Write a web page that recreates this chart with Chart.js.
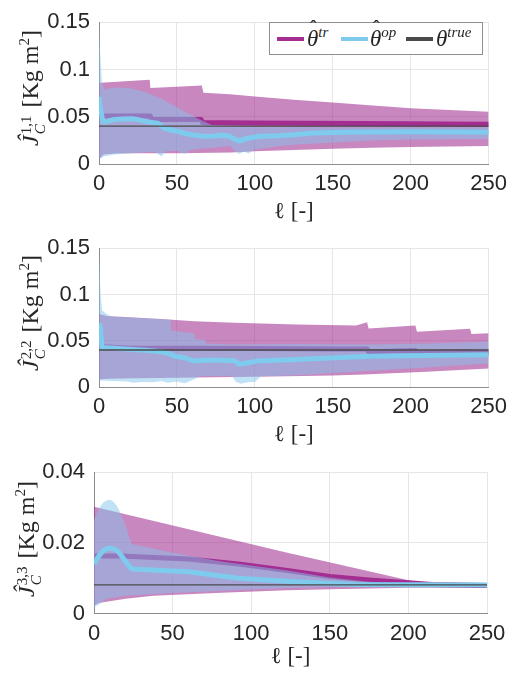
<!DOCTYPE html>
<html>
<head>
<meta charset="utf-8">
<script src="https://cdn.jsdelivr.net/npm/chart.js@4.4.0/dist/chart.umd.min.js"></script>
<style>
  body { margin: 0; background: #fff; width: 514px; height: 675px; position: relative; overflow: hidden; }
  canvas { position: absolute; left: 0; }
  .ylab {
    position: absolute; white-space: nowrap; color: #262626;
    font-family: 'Liberation Serif', serif; font-size: 24px;
    transform: translate(-50%, -50%) rotate(-90deg);
  }
  .ylab sup { font-size: 15px; }
  .stack { display: inline-block; vertical-align: -7px; font-size: 15px; line-height: 14px; margin-left: 1px; margin-right: 2px; }
  .stack div { text-align: left; }
  .legend {
    position: absolute; left: 269px; top: 22px; width: 212px; height: 31px;
    border: 1px solid #8f8f8f; background: #fff;
    font-family: 'Liberation Serif', serif; color: #262626;
  }
  .legend .sw { position: absolute; top: 14px; width: 27px; height: 4px; }
  .legend .tx { position: absolute; top: 1px; font-size: 23px; font-style: italic; white-space: nowrap; }
  .legend .tx sup { font-size: 15px; }
  .hat { position: relative; display: inline-block; }
  .hat .h { position: absolute; left: 3px; top: -9px; font-style: normal; font-size: 20px; }
</style>
</head>
<body>
<canvas id="c1" width="514" height="230" style="top:0px"></canvas>
<canvas id="c2" width="514" height="227" style="top:226px"></canvas>
<canvas id="c3" width="514" height="225" style="top:450px"></canvas>

<div class="ylab" style="left:31px; top:88px"><i>Ĵ</i><span class="stack"><div>1,1</div><div><i>C</i></div></span> [Kg m<sup>2</sup>]</div>
<div class="ylab" style="left:31px; top:313px"><i>Ĵ</i><span class="stack"><div>2,2</div><div><i>C</i></div></span> [Kg m<sup>2</sup>]</div>
<div class="ylab" style="left:27px; top:539px"><i>Ĵ</i><span class="stack"><div>3,3</div><div><i>C</i></div></span> [Kg m<sup>2</sup>]</div>

<div class="legend">
  <div class="sw" style="left:7px; background:rgb(163,45,145)"></div>
  <div class="tx" style="left:37px"><span class="hat">θ<span class="h">ˆ</span></span><sup>tr</sup></div>
  <div class="sw" style="left:71px; background:rgb(126,203,238)"></div>
  <div class="tx" style="left:100px"><span class="hat">θ<span class="h">ˆ</span></span><sup>op</sup></div>
  <div class="sw" style="left:136px; background:#4a4a4a"></div>
  <div class="tx" style="left:166px">θ<sup>true</sup></div>
</div>

<script>
// Axis ticks
const X_TICKS = [0, 50, 100, 150, 200, 250];
const Y_TICKS_12 = [0, 0.05, 0.1, 0.15];
const Y_LABELS_12 = ['0', '0.05', '0.1', '0.15'];
const Y_TICKS_3 = [0, 0.02, 0.04];
const Y_LABELS_3 = ['0', '0.02', '0.04'];

// Panel 1 : J_C^{1,1}   ([ell, value] pairs)
const trHi1 = [[0,0.086],[1,0.086],[32.5,0.089],[33,0.0805],[66,0.083],[67,0.0755],[84,0.0737],[100,0.0715],[125,0.068],[150,0.065],[167,0.063],[200,0.059],[250,0.0553]];
const trLo1 = [[0,0.005],[3,0.010],[10,0.0112],[25,0.0115],[50,0.0115],[85,0.0122],[100,0.0135],[125,0.0148],[150,0.016],[175,0.0173],[200,0.018],[250,0.019]];
const trMean1 = [[0,0.055],[2,0.051],[33,0.0507],[33.5,0.047],[65.5,0.047],[66.5,0.0439],[100,0.0435],[167,0.0428],[250,0.0421]];
const opHi1 = [[0,0.142],[1,0.11],[2,0.085],[4,0.078],[7,0.080],[12,0.081],[20,0.080],[30,0.076],[40,0.069],[50,0.060],[60,0.051],[66,0.046],[72,0.0415],[85,0.0398],[100,0.0395],[150,0.039],[250,0.0388]];
const opLo1 = [[0,0.005],[3,0.008],[10,0.010],[20,0.0115],[30,0.0125],[36,0.013],[40,0.008],[43,0.0135],[50,0.014],[55,0.0105],[58,0.0145],[65,0.016],[75,0.0175],[84,0.0193],[87,0.014],[90,0.0105],[93,0.013],[96,0.011],[100,0.0155],[105,0.0165],[116,0.019],[130,0.021],[148,0.0226],[174,0.0249],[200,0.026],[250,0.0265]];
const opMean1 = [[0,0.071],[1,0.058],[2.5,0.045],[4,0.0444],[7,0.046],[10,0.047],[15,0.0475],[21,0.0478],[25,0.047],[29.5,0.0451],[34,0.044],[38,0.0428],[42,0.0377],[46,0.036],[51,0.0344],[56,0.032],[61.5,0.0303],[68,0.0293],[74,0.0296],[79,0.0303],[84,0.0293],[86,0.027],[88,0.0259],[90,0.0242],[93,0.026],[95,0.027],[103,0.0293],[116,0.030],[125,0.031],[137,0.0327],[158,0.0337],[200,0.034],[250,0.0337]];
const true1 = 0.040;

// Panel 2 : J_C^{2,2}
const trHi2 = [[0,0.079],[5,0.0768],[40,0.0735],[61,0.0711],[87,0.0693],[127,0.0676],[165,0.0665],[172,0.070],[173,0.0631],[203,0.0665],[204,0.0596],[238,0.063],[239,0.0572],[250,0.0582]];
const trLo2 = [[0,0.008],[5,0.009],[25,0.0095],[50,0.010],[100,0.0112],[150,0.0125],[170,0.0135],[210,0.0165],[250,0.020]];
const trMean2 = [[0,0.047],[3,0.0435],[20,0.042],[60,0.0418],[100,0.0415],[150,0.041],[172,0.0412],[173,0.038],[203,0.0395],[204,0.037],[238,0.0385],[239,0.037],[250,0.0375]];
const opHi2 = [[0,0.145],[1,0.10],[2,0.083],[4,0.080],[8,0.076],[20,0.0752],[46,0.0728],[46.5,0.0607],[61,0.058],[61.5,0.052],[68,0.051],[68.5,0.047],[85,0.046],[125,0.0465],[175,0.046],[210,0.047],[250,0.049]];
const opLo2 = [[0,0.007],[10,0.0065],[18,0.006],[22,0.0045],[28,0.0055],[35,0.005],[40,0.0065],[44,0.0045],[50,0.006],[55,0.004],[60,0.0075],[65,0.0115],[85,0.0122],[88,0.0055],[91,0.0035],[95,0.005],[100,0.0055],[104,0.0115],[130,0.013],[174,0.0176],[200,0.020],[250,0.0253]];
const opMean2 = [[0,0.069],[1,0.063],[2,0.0413],[4,0.0424],[10,0.042],[19,0.0409],[29.5,0.0397],[40,0.038],[45,0.036],[48.6,0.0333],[55,0.0316],[61,0.028],[68,0.029],[78,0.029],[87,0.0285],[90,0.0245],[95,0.026],[101,0.028],[127,0.0297],[148,0.0314],[174,0.0331],[210,0.034],[250,0.0348]];
const true2 = 0.040;

// Panel 3 : J_C^{3,3}
const trHi3 = [[0,0.0302],[123,0.0172],[212,0.0082],[250,0.0082]];
const trLo3 = [[0,0.0022],[3,0.003],[8,0.0033],[20,0.0042],[38,0.005],[81,0.0059],[123,0.0066],[150,0.0069],[200,0.0073],[250,0.0073]];
const trMean3 = [[0,0.0163],[17,0.0163],[60,0.0154],[92,0.014],[123,0.0122],[150,0.0105],[175,0.0095],[200,0.0087],[215,0.0082],[250,0.0079]];
const opHi3 = [[0,0.0266],[2,0.0285],[4,0.0303],[6,0.0315],[8,0.032],[10,0.0322],[12,0.0318],[14,0.0308],[16,0.0293],[18,0.0272],[20,0.025],[22,0.0222],[24,0.0197],[50,0.0172],[80,0.0148],[123,0.0122],[150,0.0102],[175,0.009],[200,0.0085],[250,0.0083]];
const opLo3 = [[0,0.0018],[3,0.0025],[8,0.0042],[20,0.005],[50,0.0058],[100,0.0068],[123,0.0072],[150,0.0075],[200,0.0077],[250,0.0078]];
const opMean3 = [[0,0.014],[2,0.0155],[4,0.0168],[6,0.0178],[8,0.0183],[10,0.0185],[12,0.0184],[14,0.018],[16,0.0172],[18,0.016],[20,0.0148],[22,0.0136],[24,0.0126],[60,0.0118],[92,0.010],[123,0.0091],[150,0.0085],[165,0.0082],[250,0.0081]];
const true3 = 0.0081;

// Colours
const TR_LINE = 'rgb(163,45,145)';
const TR_FILL = 'rgba(158,44,142,0.57)';
const OP_LINE = 'rgb(126,203,238)';
const OP_FILL = 'rgba(132,196,236,0.5)';
const TRUE_LINE = '#4a4a4a';
const TXT = '#262626';

function makePanel(id, p) {
    const line = (data, color, width) => ({
        data, borderColor: color, borderWidth: width, pointRadius: 0, fill: false,
        borderJoinStyle: 'round'
    });
    const band = (data, color) => ({
        data, borderColor: 'transparent', borderWidth: 0, pointRadius: 0,
        backgroundColor: color, fill: color ? '+1' : false
    });

    // first dataset is drawn on top
    const datasets = [
        line([[0, p.trueVal], [250, p.trueVal]], TRUE_LINE, 1.3),
        line(p.opMean, OP_LINE, 5),
        band(p.opHi, OP_FILL),
        band(p.opLo, null),
        line(p.trMean, TR_LINE, 5),
        band(p.trHi, TR_FILL),
        band(p.trLo, null)
    ];

    new Chart(document.getElementById(id), {
        type: 'line',
        data: { datasets },
        options: {
            responsive: false,
            animation: false,
            events: [],
            layout: { padding: { left: 0, right: p.padR, top: p.padT, bottom: 0 } },
            plugins: { legend: { display: false }, tooltip: { enabled: false } },
            scales: {
                x: {
                    type: 'linear', min: 0, max: 250,
                    afterBuildTicks: a => { a.ticks = X_TICKS.map(v => ({ value: v })); },
                    afterFit: a => { a.height = p.xH; },
                    ticks: { color: TXT, font: { family: 'Liberation Sans', size: 22 }, padding: 7, maxRotation: 0 },
                    grid: { color: '#e6e6e6', drawTicks: false },
                    border: { color: '#8c8c8c' },
                    title: {
                        display: true, text: 'ℓ [-]', color: TXT,
                        font: { family: 'Liberation Serif', size: 23 },
                        padding: { top: 0, bottom: 4 }
                    }
                },
                y: {
                    type: 'linear', min: p.yTicks[0], max: p.yTicks[p.yTicks.length - 1],
                    afterBuildTicks: a => { a.ticks = p.yTicks.map(v => ({ value: v })); },
                    afterFit: a => { a.width = p.yW; },
                    ticks: {
                        color: TXT, font: { family: 'Liberation Sans', size: 22 }, padding: 9,
                        callback: (v, i) => p.yLabels[i]
                    },
                    grid: { color: '#e6e6e6', drawTicks: false },
                    border: { color: '#8c8c8c' }
                }
            }
        }
    });
}

makePanel('c1', {
    trHi: trHi1, trLo: trLo1, trMean: trMean1, opHi: opHi1, opLo: opLo1, opMean: opMean1, trueVal: true1,
    yTicks: Y_TICKS_12, yLabels: Y_LABELS_12, padT: 16, padR: 25, yW: 99, xH: 66
});
makePanel('c2', {
    trHi: trHi2, trLo: trLo2, trMean: trMean2, opHi: opHi2, opLo: opLo2, opMean: opMean2, trueVal: true2,
    yTicks: Y_TICKS_12, yLabels: Y_LABELS_12, padT: 16, padR: 25, yW: 99, xH: 66
});
makePanel('c3', {
    trHi: trHi3, trLo: trLo3, trMean: trMean3, opHi: opHi3, opLo: opLo3, opMean: opMean3, trueVal: true3,
    yTicks: Y_TICKS_3, yLabels: Y_LABELS_3, padT: 15.5, padR: 27, yW: 94, xH: 61.5
});
</script>
</body>
</html>
